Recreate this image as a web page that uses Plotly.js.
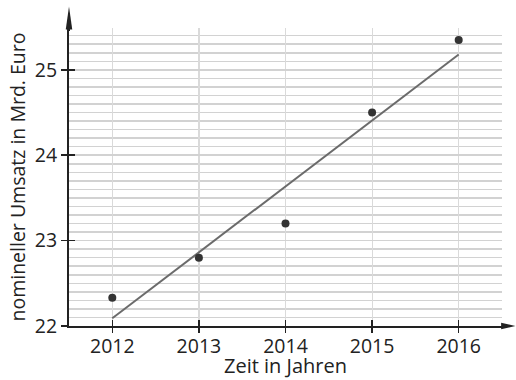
<!DOCTYPE html>
<html><head><meta charset="utf-8">
<script src="https://cdn.plot.ly/plotly-3.0.1.min.js"></script>
<style>html,body{margin:0;padding:0;background:#fff}#chart{width:516px;height:380px}</style>
</head><body><div id="chart"></div>
<script>
const years = [2012, 2013, 2014, 2015, 2016];
const umsatz = [22.33, 22.8, 23.2, 24.5, 25.35];
const trendYears = [2012, 2016];
const trendValues = [22.09, 25.18];
const yTicks = [22, 23, 24, 25];
const xTicks = [2012, 2013, 2014, 2015, 2016];
const xTitle = 'Zeit in Jahren';
const yTitle = 'nomineller Umsatz in Mrd. Euro';

const fam = '"Open Sans", "Noto Sans", sans-serif';
const font = {family: fam, size: 19.5, color: '#222'};
const xTitleFont = {family: fam, size: 20, color: '#222'};
const yTitleFont = {family: fam, size: 19.5, color: '#222'};
const axisColor = '#222';
const gridColor = '#d2d2d2';
const vGridColor = '#dadada';

const traces = [
  {x: trendYears, y: trendValues, type: 'scatter', mode: 'lines',
   line: {color: '#6b6b6b', width: 2}, hoverinfo: 'none', cliponaxis: false},
  {x: years, y: umsatz, type: 'scatter', mode: 'markers',
   marker: {color: '#333', size: 8}, hoverinfo: 'none', cliponaxis: false},
  {x: years, y: umsatz, xaxis: 'x2', yaxis: 'y2', type: 'scatter', mode: 'markers',
   marker: {opacity: 0}, hoverinfo: 'none', showlegend: false},
  {x: years, y: umsatz, xaxis: 'x3', yaxis: 'y2', type: 'scatter', mode: 'markers',
   marker: {opacity: 0}, hoverinfo: 'none', showlegend: false}
];

const xr = [2011.5, 2016.5];
const yr = [22, 25.49];

const layout = {
  width: 516, height: 380,
  margin: {l: 69, r: 14, t: 28, b: 54},
  paper_bgcolor: '#fff', plot_bgcolor: '#fff',
  showlegend: false,
  font: font,
  xaxis: {
    range: xr, tickvals: xTicks, ticktext: xTicks.map(String),
    showgrid: true, gridcolor: vGridColor, gridwidth: 1.2,
    zeroline: false, showline: true, linecolor: axisColor, linewidth: 2,
    ticks: 'outside', ticklen: 2, tickwidth: 1.5, tickcolor: axisColor,
    tickfont: font
  },
  yaxis: {
    range: yr, tickvals: yTicks, ticktext: yTicks.map(String),
    showgrid: true, gridcolor: gridColor, gridwidth: 1.5,
    minor: {dtick: 0.1, tick0: 22, showgrid: true, gridcolor: gridColor, gridwidth: 1.5, ticks: ''},
    zeroline: false, showline: true, linecolor: axisColor, linewidth: 2,
    ticks: 'outside', ticklen: 6, tickwidth: 1.5, tickcolor: axisColor,
    tickfont: font,
    title: {text: yTitle, font: yTitleFont, standoff: 4}
  },
  xaxis2: {
    overlaying: 'x', anchor: 'y2', range: xr, tickvals: xTicks, showticklabels: false,
    showgrid: false, zeroline: false, showline: false,
    ticks: 'inside', ticklen: 6, tickwidth: 1.5, tickcolor: axisColor, side: 'bottom'
  },
  xaxis3: {
    overlaying: 'x', anchor: 'y2', range: xr, tickvals: xTicks, showticklabels: false,
    showgrid: false, zeroline: false, showline: false,
    ticks: 'outside', ticklen: 6, tickwidth: 1.5, tickcolor: axisColor, side: 'bottom'
  },
  yaxis2: {
    overlaying: 'y', anchor: 'x2', range: yr, tickvals: yTicks, showticklabels: false,
    showgrid: false, zeroline: false, showline: false,
    ticks: 'inside', ticklen: 6, tickwidth: 1.5, tickcolor: axisColor, side: 'left'
  },
  annotations: [
    {text: xTitle, xref: 'paper', yref: 'paper', x: 0.5, y: -0.181,
     xanchor: 'center', yanchor: 'bottom', showarrow: false, font: xTitleFont, borderpad: 0}
  ],
  shapes: [
    {type: 'path', xref: 'paper', yref: 'paper',
     path: 'M -0.0075,0.995 L 0,1.072 L 0.0075,0.995 Z',
     fillcolor: axisColor, line: {width: 0}},
    {type: 'line', xref: 'paper', yref: 'paper', x0: 0, x1: 0, y0: 0.99, y1: 1.0,
     line: {color: axisColor, width: 2}},
    {type: 'path', xref: 'paper', yref: 'paper',
     path: 'M 0.998,-0.011 L 1.031,0 L 0.998,0.011 Z',
     fillcolor: axisColor, line: {width: 0}}
  ]
};

Plotly.newPlot('chart', traces, layout, {staticPlot: true, displayModeBar: false});
</script>
</body></html>
